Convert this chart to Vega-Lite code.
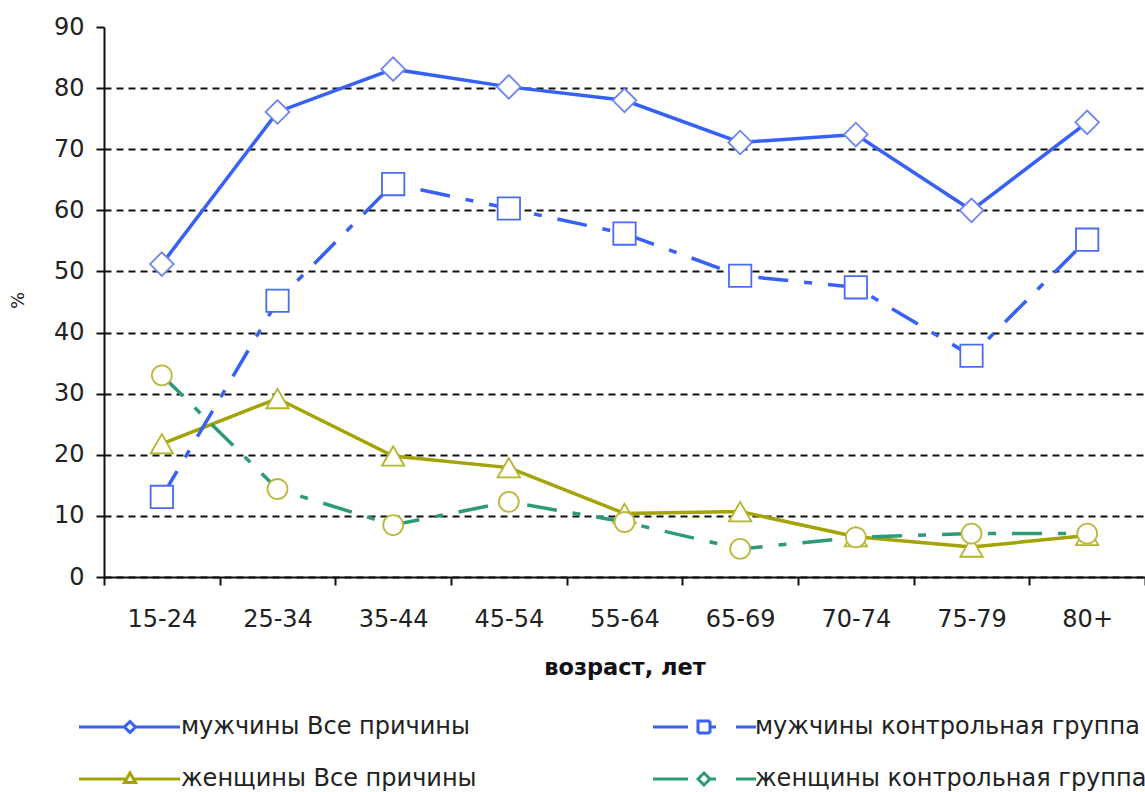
{
  "$schema": "https://vega.github.io/schema/vega-lite/v6.json",
  "width": 1041,
  "height": 550,
  "autosize": {"type": "none"},
  "padding": {"left": 104, "top": 27, "right": 0, "bottom": 215},
  "background": "white",
  "config": {"view": {"stroke": null}, "font": "DejaVu Sans"},
  "data": {
    "values": [
      {"age": "15-24", "series": "мужчины Все причины", "value": 51.2},
      {"age": "25-34", "series": "мужчины Все причины", "value": 76.1},
      {"age": "35-44", "series": "мужчины Все причины", "value": 83.1},
      {"age": "45-54", "series": "мужчины Все причины", "value": 80.2},
      {"age": "55-64", "series": "мужчины Все причины", "value": 78},
      {"age": "65-69", "series": "мужчины Все причины", "value": 71.1},
      {"age": "70-74", "series": "мужчины Все причины", "value": 72.4},
      {"age": "75-79", "series": "мужчины Все причины", "value": 60},
      {"age": "80+", "series": "мужчины Все причины", "value": 74.4},
      {"age": "15-24", "series": "мужчины контрольная группа", "value": 13.1},
      {"age": "25-34", "series": "мужчины контрольная группа", "value": 45.2},
      {"age": "35-44", "series": "мужчины контрольная группа", "value": 64.3},
      {"age": "45-54", "series": "мужчины контрольная группа", "value": 60.3},
      {"age": "55-64", "series": "мужчины контрольная группа", "value": 56.2},
      {"age": "65-69", "series": "мужчины контрольная группа", "value": 49.3},
      {"age": "70-74", "series": "мужчины контрольная группа", "value": 47.4},
      {"age": "75-79", "series": "мужчины контрольная группа", "value": 36.2},
      {"age": "80+", "series": "мужчины контрольная группа", "value": 55.2},
      {"age": "15-24", "series": "женщины Все причины", "value": 21.8},
      {"age": "25-34", "series": "женщины Все причины", "value": 29.2},
      {"age": "35-44", "series": "женщины Все причины", "value": 19.8},
      {"age": "45-54", "series": "женщины Все причины", "value": 17.9},
      {"age": "55-64", "series": "женщины Все причины", "value": 10.4},
      {"age": "65-69", "series": "женщины Все причины", "value": 10.7},
      {"age": "70-74", "series": "женщины Все причины", "value": 6.6},
      {"age": "75-79", "series": "женщины Все причины", "value": 4.9},
      {"age": "80+", "series": "женщины Все причины", "value": 6.8},
      {"age": "15-24", "series": "женщины контрольная группа", "value": 33},
      {"age": "25-34", "series": "женщины контрольная группа", "value": 14.4},
      {"age": "35-44", "series": "женщины контрольная группа", "value": 8.5},
      {"age": "45-54", "series": "женщины контрольная группа", "value": 12.3},
      {"age": "55-64", "series": "женщины контрольная группа", "value": 9},
      {"age": "65-69", "series": "женщины контрольная группа", "value": 4.6},
      {"age": "70-74", "series": "женщины контрольная группа", "value": 6.5},
      {"age": "75-79", "series": "женщины контрольная группа", "value": 7.1},
      {"age": "80+", "series": "женщины контрольная группа", "value": 7.1}
    ]
  },
  "encoding": {
    "x": {
      "field": "age",
      "type": "nominal",
      "sort": null,
      "scale": {"domain": ["15-24", "25-34", "35-44", "45-54", "55-64", "65-69", "70-74", "75-79", "80+"], "paddingInner": 0, "paddingOuter": 0},
      "axis": {
        "title": "возраст, лет",
        "titleFont": "DejaVu Sans",
        "titleFontWeight": "bold",
        "titleFontSize": 22.5,
        "titleColor": "#111",
        "titlePadding": 25,
        "labelFont": "DejaVu Sans",
        "labelFontSize": 24,
        "labelColor": "#222",
        "labelPadding": 22,
        "labelAngle": 0,
        "tickBand": "extent",
        "tickSize": 8,
        "tickWidth": 2,
        "tickColor": "#111",
        "domainColor": "#111",
        "domainWidth": 2,
        "grid": false
      }
    },
    "y": {
      "field": "value",
      "type": "quantitative",
      "scale": {"domain": [0, 90], "nice": false},
      "axis": {
        "title": "%",
        "titleFont": "DejaVu Sans",
        "titleFontSize": 18,
        "titleFontWeight": "normal",
        "titleColor": "#222",
        "titleX": -86,
        "titleY": 273,
        "titleBaseline": "middle",
        "values": [0, 10, 20, 30, 40, 50, 60, 70, 80, 90],
        "tickSize": 8,
        "tickWidth": 2,
        "tickColor": "#111",
        "labelFont": "DejaVu Sans",
        "labelFontSize": 24,
        "labelColor": "#222",
        "labelPadding": 12,
        "domainColor": "#111",
        "domainWidth": 2,
        "grid": true,
        "gridColor": "#111",
        "gridWidth": 2,
        "gridDash": [7, 5],
        "gridOpacity": {"condition": {"test": "datum.value >= 90", "value": 0}, "value": 1}
      }
    }
  },
  "layer": [
    {
      "transform": [{"filter": {"field": "series", "oneOf": ["мужчины Все причины", "женщины Все причины"]}}],
      "mark": {"type": "line", "strokeWidth": 3.5},
      "encoding": {
        "color": {
          "field": "series",
          "type": "nominal",
          "scale": {
            "domain": ["мужчины Все причины", "мужчины контрольная группа", "женщины Все причины", "женщины контрольная группа"],
            "range": ["#3760f5", "#3760f5", "#a3a303", "#2d9b78"]
          },
          "legend": {
            "title": null,
            "orient": "none",
            "legendX": 14,
            "legendY": 688,
            "direction": "horizontal",
            "columns": 2,
            "columnPadding": 170,
            "rowPadding": 28,
            "symbolSize": 400,
            "symbolStrokeWidth": 3,
            "symbolFillColor": "white",
            "labelOffset": 39,
            "labelFont": "DejaVu Sans",
            "labelFontSize": 24,
            "labelColor": "#222",
            "labelLimit": 0,
            "encode": {
              "symbols": {
                "update": {
                  "shape": {"signal": "datum.value === 'мужчины Все причины' ? 'M-5.1,0H-0.55M0.55,0H5M-0.55,0L0,-0.55L0.55,0L0,0.55Z' : datum.value === 'женщины Все причины' ? 'M-5.1,0H-0.45M0.45,0H5M-0.55,0.35L0,-0.6L0.55,0.35Z' : datum.value === 'мужчины контрольная группа' ? 'M-5.1,0H-1.6M0.6,0H1.2M3.2,0H5.2M-0.6,-0.6H0.6V0.6H-0.6Z' : 'M-5.1,0H-1.6M0.6,0H1.2M3.2,0H5.2M-0.6,0L0,-0.6L0.6,0L0,0.6Z'"},
                  "fill": {"value": "white"},
                  "fillOpacity": {"value": 1},
                  "strokeDash": {"value": [1, 0]},
                  "strokeWidth": {"value": 3}
                }
              }
            }
          }
        }
      }
    },
    {
      "transform": [{"filter": {"field": "series", "oneOf": ["мужчины контрольная группа", "женщины контрольная группа"]}}],
      "mark": {"type": "line", "strokeWidth": 3.5, "strokeDash": [30, 16, 8, 16]},
      "encoding": {
        "color": {"field": "series", "type": "nominal"}
      }
    },
    {
      "transform": [{"filter": {"field": "series", "equal": "мужчины Все причины"}}],
      "mark": {"type": "point", "shape": "diamond", "filled": true, "fill": "white", "stroke": "#6f84f0", "strokeWidth": 1.8, "size": 560, "opacity": 1}
    },
    {
      "transform": [{"filter": {"field": "series", "equal": "мужчины контрольная группа"}}],
      "mark": {"type": "point", "shape": "square", "filled": true, "fill": "white", "stroke": "#4a6cf0", "strokeWidth": 1.8, "size": 500, "opacity": 1}
    },
    {
      "transform": [{"filter": {"field": "series", "equal": "женщины Все причины"}}],
      "mark": {"type": "point", "shape": "triangle-up", "filled": true, "fill": "white", "stroke": "#b5b52a", "strokeWidth": 1.8, "size": 500, "opacity": 1}
    },
    {
      "transform": [{"filter": {"field": "series", "equal": "женщины контрольная группа"}}],
      "mark": {"type": "point", "shape": "circle", "filled": true, "fill": "white", "stroke": "#bdb83e", "strokeWidth": 1.8, "size": 400, "opacity": 1}
    }
  ]
}
